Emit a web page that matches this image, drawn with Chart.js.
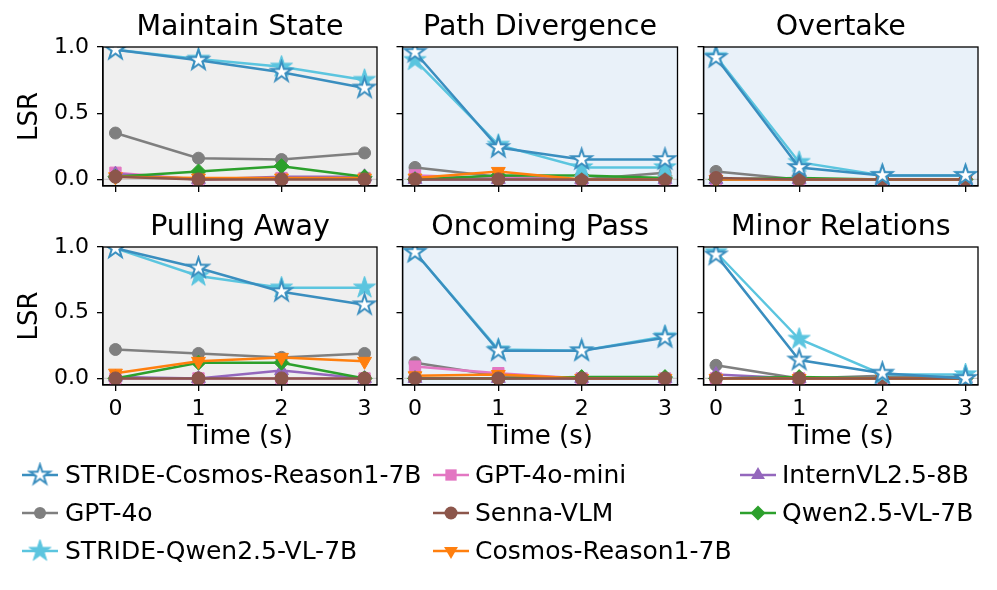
<!DOCTYPE html>
<html>
<head>
<meta charset="utf-8">
<script src="https://cdn.jsdelivr.net/npm/chart.js@4.4.1/dist/chart.umd.min.js"></script>
<style>
html, body { margin: 0; padding: 0; background: #fff; }
#wrap { position: relative; width: 997px; height: 590px; overflow: hidden; font-family: "DejaVu Sans", sans-serif; }
#wrap canvas.panel { position: absolute; left: 0; top: 0; }
.leg { position: absolute; height: 30px; line-height: 30px; font-size: 25px; color: #000; white-space: nowrap; }
.leg canvas { position: absolute; left: 0; top: 0; }
.leg span { position: absolute; top: 0; }
</style>
</head>
<body>
<div id="wrap"></div>
<script>
const panelTitles = ['Maintain State', 'Path Divergence', 'Overtake', 'Pulling Away', 'Oncoming Pass', 'Minor Relations'];
const timeSteps = [0, 1, 2, 3];
const yTickValues = [0, 0.5, 1.0];

// one row per panel, in the order of panelTitles
const strideCosmos = [
  [0.98, 0.90, 0.81, 0.69],
  [0.96, 0.24, 0.15, 0.15],
  [0.92, 0.09, 0.03, 0.03],
  [0.99, 0.84, 0.66, 0.56],
  [0.96, 0.21, 0.21, 0.31],
  [0.94, 0.14, 0.04, 0.00]
];
const strideQwen = [
  [0.98, 0.91, 0.85, 0.75],
  [0.90, 0.26, 0.09, 0.09],
  [0.93, 0.13, 0.03, 0.03],
  [0.99, 0.78, 0.69, 0.69],
  [0.96, 0.22, 0.21, 0.32],
  [0.96, 0.30, 0.03, 0.03]
];
const gpt4o = [
  [0.35, 0.16, 0.15, 0.20],
  [0.09, 0.02, 0.00, 0.05],
  [0.06, 0.00, 0.00, 0.00],
  [0.22, 0.19, 0.16, 0.19],
  [0.12, 0.02, 0.00, 0.00],
  [0.10, 0.00, 0.02, 0.01]
];
const gpt4oMini = [
  [0.05, 0.00, 0.01, 0.01],
  [0.03, 0.01, 0.00, 0.00],
  [0.00, 0.00, 0.00, 0.00],
  [0.00, 0.00, 0.00, 0.00],
  [0.09, 0.04, 0.00, 0.00],
  [0.00, 0.00, 0.00, 0.00]
];
const sennaVLM = [
  [0.02, 0.00, 0.00, 0.00],
  [0.00, 0.00, 0.00, 0.00],
  [0.01, 0.00, 0.00, 0.00],
  [0.00, 0.00, 0.00, 0.00],
  [0.00, 0.00, 0.00, 0.00],
  [0.00, 0.00, 0.00, 0.00]
];
const cosmosReason = [
  [0.02, 0.01, 0.01, 0.01],
  [0.01, 0.06, 0.00, 0.00],
  [0.00, 0.00, 0.00, 0.00],
  [0.04, 0.13, 0.16, 0.13],
  [0.02, 0.03, 0.00, 0.00],
  [0.00, 0.00, 0.00, 0.00]
];
const internVL = [
  [0.04, 0.00, 0.02, 0.02],
  [0.00, 0.00, 0.00, 0.00],
  [0.00, 0.00, 0.00, 0.00],
  [0.01, 0.00, 0.06, 0.00],
  [0.00, 0.00, 0.00, 0.00],
  [0.03, 0.00, 0.00, 0.00]
];
const qwenVL = [
  [0.02, 0.06, 0.10, 0.02],
  [0.00, 0.03, 0.03, 0.01],
  [0.00, 0.01, 0.00, 0.00],
  [0.00, 0.12, 0.12, 0.00],
  [0.00, 0.00, 0.01, 0.01],
  [0.00, 0.01, 0.00, 0.00]
];

const FONT = '"DejaVu Sans", sans-serif';
const W = 997, H = 590;

function starCanvas(r, fill, stroke, lw) {
  const s = Math.ceil(2 * (r + lw + 1));
  const c = document.createElement('canvas');
  c.width = s; c.height = s;
  const g = c.getContext('2d');
  g.translate(s / 2, s / 2);
  g.beginPath();
  for (let i = 0; i < 10; i++) {
    const rr = i % 2 ? r * 0.382 : r;
    const a = -Math.PI / 2 + i * Math.PI / 5;
    g.lineTo(rr * Math.cos(a), rr * Math.sin(a));
  }
  g.closePath();
  g.fillStyle = fill;
  g.fill();
  g.lineWidth = lw;
  g.strokeStyle = stroke;
  g.lineJoin = 'miter';
  g.stroke();
  return c;
}

const hollowStar = starCanvas(10.5, '#ffffff', '#3a8ebf', 2);
const lightStar = starCanvas(11.5, '#5bc5df', '#5bc5df', 1);

// listed top-most first (chart.js draws the first dataset last)
const series = [
  { label: 'STRIDE-Cosmos-Reason1-7B', data: strideCosmos, color: '#3a8ebf', style: hollowStar, r: 11 },
  { label: 'STRIDE-Qwen2.5-VL-7B', data: strideQwen, color: '#5bc5df', style: lightStar, r: 12 },
  { label: 'Senna-VLM', data: sennaVLM, color: '#8c564b', style: 'circle', r: 6.5 },
  { label: 'Cosmos-Reason1-7B', data: cosmosReason, color: '#ff7f0e', style: 'triangle', r: 8, rot: 180 },
  { label: 'Qwen2.5-VL-7B', data: qwenVL, color: '#2ca02c', style: 'rectRot', r: 7.5 },
  { label: 'InternVL2.5-8B', data: internVL, color: '#9467bd', style: 'triangle', r: 8 },
  { label: 'GPT-4o-mini', data: gpt4oMini, color: '#e377c2', style: 'rect', r: 8 },
  { label: 'GPT-4o', data: gpt4o, color: '#7f7f7f', style: 'circle', r: 6 }
];

const areas = [
  [103, 47, 377, 186], [402.5, 47, 677.5, 186], [703.5, 47, 978, 186],
  [103, 247, 377, 385], [402.5, 247, 677.5, 385], [703.5, 247, 978, 385]
];
const backgrounds = ['#efefef', '#e9f1f9', '#e9f1f9', '#efefef', '#e9f1f9', '#ffffff'];

const framePlugin = {
  id: 'frame',
  beforeDraw(chart) {
    const a = chart.chartArea, ctx = chart.ctx;
    ctx.save();
    ctx.fillStyle = chart.options.plugins.frame.bg;
    ctx.fillRect(a.left, a.top, a.right - a.left, a.bottom - a.top);
    ctx.restore();
  },
  beforeDatasetsDraw(chart) {
    const a = chart.chartArea, ctx = chart.ctx;
    const y0 = chart.scales.y.getPixelForValue(0);
    ctx.save();
    ctx.strokeStyle = '#cccccc';
    ctx.lineWidth = 1.2;
    ctx.beginPath();
    ctx.moveTo(a.left, y0);
    ctx.lineTo(a.right, y0);
    ctx.stroke();
    ctx.restore();
  },
  afterDraw(chart) {
    const a = chart.chartArea, ctx = chart.ctx;
    ctx.save();
    ctx.strokeStyle = '#000';
    ctx.lineWidth = 1.3;
    ctx.strokeRect(a.left, a.top, a.right - a.left, a.bottom - a.top);
    ctx.restore();
  }
};

const wrap = document.getElementById('wrap');

panelTitles.forEach((title, p) => {
  const [L, T, R, B] = areas[p];
  const showY = p % 3 === 0;
  const showX = p >= 3;
  const yW = showY ? 88.6 : 10;
  const xH = showX ? 68 : 10;
  const titleH = 28.5 * 1.2 + 2.5;

  const cv = document.createElement('canvas');
  cv.className = 'panel';
  cv.width = W; cv.height = H;
  cv.style.width = W + 'px'; cv.style.height = H + 'px';
  wrap.appendChild(cv);

  const datasets = series.map(s => ({
    label: s.label,
    data: s.data[p].map((v, i) => ({ x: timeSteps[i], y: v })),
    borderColor: s.color,
    backgroundColor: s.color,
    borderWidth: 2.5,
    pointStyle: s.style,
    pointRadius: s.r,
    pointRotation: s.rot || 0,
    pointBorderWidth: 1,
    pointBackgroundColor: s.color,
    pointBorderColor: s.color,
    tension: 0,
    fill: false
  }));

  new Chart(cv, {
    type: 'line',
    data: { datasets },
    options: {
      responsive: false,
      animation: false,
      events: [],
      layout: { padding: { left: L - yW, right: W - R, top: T - titleH, bottom: H - B - xH } },
      plugins: {
        legend: { display: false },
        tooltip: { enabled: false },
        title: {
          display: true, text: title, fullSize: false, color: '#000',
          font: { family: FONT, size: 28.5, weight: 'normal' },
          padding: { top: 0, bottom: 2.5 }
        },
        frame: { bg: backgrounds[p] }
      },
      scales: {
        x: {
          type: 'linear', min: -0.15, max: 3.15,
          afterBuildTicks: ax => { ax.ticks = timeSteps.map(v => ({ value: v })); },
          afterFit: ax => { ax.height = xH; },
          grid: { display: true, drawOnChartArea: false, drawTicks: true, tickLength: 6, color: '#000', lineWidth: 1.3 },
          border: { display: true, color: '#000', width: 1.3 },
          ticks: {
            color: '#000', padding: 5, maxRotation: 0, autoSkip: false,
            font: { family: FONT, size: 22 },
            callback: v => showX ? String(v) : ''
          },
          title: { display: showX, text: 'Time (s)', color: '#000', font: { family: FONT, size: 26 }, padding: 0 }
        },
        y: {
          type: 'linear', min: -0.05, max: 1.0,
          afterBuildTicks: ax => { ax.ticks = yTickValues.map(v => ({ value: v })); },
          afterFit: ax => { ax.width = yW; },
          grid: { display: true, drawOnChartArea: false, drawTicks: true, tickLength: 6, color: '#000', lineWidth: 1.3 },
          border: { display: true, color: '#000', width: 1.3 },
          ticks: {
            color: '#000', padding: 8, autoSkip: false,
            font: { family: FONT, size: 22 },
            callback: v => showY ? v.toFixed(1) : ''
          },
          title: { display: showY, text: 'LSR', color: '#000', font: { family: FONT, size: 26 }, padding: 0 }
        }
      }
    },
    plugins: [framePlugin]
  });
});

// legend, column by column like the original
const legendOrder = [
  ['STRIDE-Cosmos-Reason1-7B', 'GPT-4o', 'STRIDE-Qwen2.5-VL-7B'],
  ['GPT-4o-mini', 'Senna-VLM', 'Cosmos-Reason1-7B'],
  ['InternVL2.5-8B', 'Qwen2.5-VL-7B']
];
const legendCols = [{ x: 22, tx: 43 }, { x: 433, tx: 42 }, { x: 740, tx: 42 }];
const legendRows = [475, 513, 551];

function drawMarker(g, s, cx, cy, scale) {
  if (typeof s.style !== 'string') {
    const w = s.style.width * scale, h = s.style.height * scale;
    g.drawImage(s.style, cx - w / 2, cy - h / 2, w, h);
    return;
  }
  const r = s.r * scale;
  g.fillStyle = s.color;
  g.beginPath();
  if (s.style === 'circle') {
    g.arc(cx, cy, r, 0, Math.PI * 2);
  } else if (s.style === 'rect') {
    const h = r * Math.SQRT1_2;
    g.rect(cx - h, cy - h, 2 * h, 2 * h);
  } else if (s.style === 'rectRot') {
    g.moveTo(cx, cy - r); g.lineTo(cx + r, cy); g.lineTo(cx, cy + r); g.lineTo(cx - r, cy);
  } else if (s.style === 'triangle') {
    const d = s.rot ? -1 : 1;
    g.moveTo(cx, cy - d * r);
    g.lineTo(cx + r * 0.866, cy + d * r * 0.5);
    g.lineTo(cx - r * 0.866, cy + d * r * 0.5);
  }
  g.closePath();
  g.fill();
}

legendOrder.forEach((col, ci) => {
  col.forEach((name, ri) => {
    const s = series.find(d => d.label === name);
    const item = document.createElement('div');
    item.className = 'leg';
    item.style.left = legendCols[ci].x + 'px';
    item.style.top = (legendRows[ri] - 15) + 'px';
    const c = document.createElement('canvas');
    c.width = 40; c.height = 30;
    const g = c.getContext('2d');
    g.strokeStyle = s.color;
    g.lineWidth = 2.5;
    g.beginPath(); g.moveTo(0, 15); g.lineTo(36, 15); g.stroke();
    drawMarker(g, s, 18, 15, 1);
    item.appendChild(c);
    const t = document.createElement('span');
    t.style.left = legendCols[ci].tx + 'px';
    t.textContent = name;
    item.appendChild(t);
    wrap.appendChild(item);
  });
});
</script>
</body>
</html>
